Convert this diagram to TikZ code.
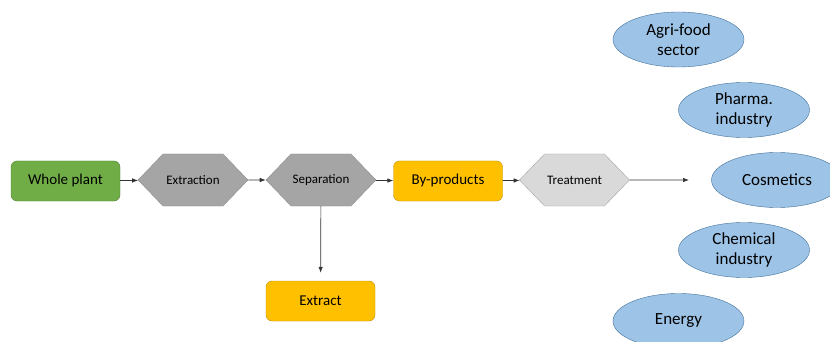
\documentclass[tikz,border=0pt]{standalone}
\usepackage{fontspec}
\setmainfont{Carlito}
\usepackage{tikz}
\usetikzlibrary{arrows.meta,positioning,calc,shapes.symbols,shapes.geometric}

\definecolor{plantgreen}{HTML}{70AD47}
\definecolor{plantedge}{HTML}{507E32}
\definecolor{stepgray}{HTML}{A5A5A5}
\definecolor{stepedge}{HTML}{8C8C8C}
\definecolor{lightgray}{HTML}{D9D9D9}
\definecolor{prodyellow}{HTML}{FFC000}
\definecolor{prodedge}{HTML}{BF9000}
\definecolor{useblue}{HTML}{9DC3E6}
\definecolor{useedge}{HTML}{41719C}

\tikzset{
  flowbox/.style={draw, rounded corners=6pt, minimum width=109pt, minimum height=40pt,
    inner sep=0pt, font=\fontsize{15}{18}\selectfont},
  stagehex/.style={draw=stepedge, fill=stepgray, shape=signal, signal to=east and west,
    signal pointer angle=92, minimum width=110pt, minimum height=52pt, inner sep=0pt,
    font=\fontsize{13}{16}\selectfont},
  usecase/.style={draw=useedge, fill=useblue, ellipse, minimum width=131pt, minimum height=55pt,
    inner sep=0pt, align=center, font=\fontsize{17}{20.5}\selectfont},
  flowarrow/.style={draw=black!80, line width=0.7pt, -{Latex[length=6pt,width=4.5pt]}}
}

\begin{document}
\begin{tikzpicture}[x=1pt,y=-1pt]
  \useasboundingbox (0,0) rectangle (830,342);
  \node[flowbox, fill=plantgreen, draw=plantedge] (plant) at (65.5,181) {Whole plant}; % raw material
  \node[stagehex] (extraction) at (193,180) {Extraction}; % first step
  \node[stagehex] (separation) at (321,180) {Separation}; % second step
  \node[flowbox, fill=prodyellow, draw=prodedge] (byprod) at (448,181) {By-products}; % residue
  \node[stagehex, fill=lightgray, draw=stepgray] (treatment) at (574.5,180) {Treatment}; % third step
  \node[flowbox, fill=prodyellow, draw=prodedge] (extract) at (320.5,301) {Extract}; % main product
  \coordinate (outlet) at (689,180); % end of last arrow

  \node[usecase] (agrifood) at (678.5,39.5) {Agri-food\\sector};
  \node[usecase] (pharma) at (744,110) {Pharma.\\industry};
  \node[usecase] (cosmetics) at (777,180) {Cosmetics};
  \node[usecase] (chemical) at (744,250) {Chemical\\industry};
  \node[usecase] (energy) at (678.5,321) {Energy};

  \draw[flowarrow] (plant) -- (extraction);
  \draw[flowarrow] (extraction) -- (separation);
  \draw[flowarrow] (separation) -- (byprod);
  \draw[flowarrow] (byprod) -- (treatment);
  \draw[flowarrow] (treatment) -- (outlet);
  \draw[flowarrow, shorten >=8pt] (separation) -- (extract);
\end{tikzpicture}
\end{document}
